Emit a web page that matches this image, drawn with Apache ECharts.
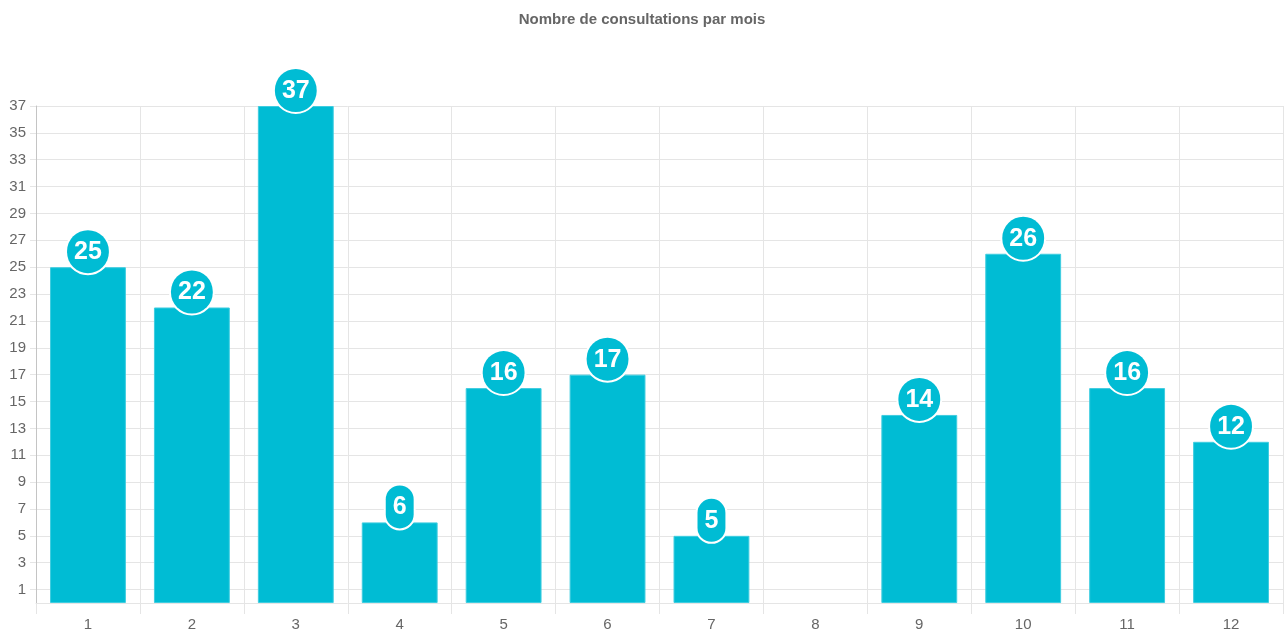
<!DOCTYPE html>
<html>
<head>
<meta charset="utf-8">
<script src="https://cdn.jsdelivr.net/npm/echarts@6/dist/echarts.min.js"></script>
<style>
html,body{margin:0;padding:0;background:#fff;}
#chart{width:1284px;height:635px;}
</style>
</head>
<body>
<div id="chart"></div>
<script>
const titleText = 'Nombre de consultations par mois';
const categories = ['1','2','3','4','5','6','7','8','9','10','11','12'];
const consultations = [25, 22, 37, 6, 16, 17, 5, null, 14, 26, 16, 12];
const yTickValues = [1,3,5,7,9,11,13,15,17,19,21,23,25,27,29,31,33,35,37];
const yMax = 37;

const chart = echarts.init(document.getElementById('chart'), null, {renderer:'canvas'});
const font = '"Liberation Sans", Arial, Helvetica, sans-serif';
chart.setOption({
  animation: false,
  textStyle: { fontFamily: font },
  title: {
    text: titleText,
    left: 'center',
    top: 7,
    textStyle: { fontFamily: font, fontSize: 15, fontWeight: 'bold', color: '#666' }
  },
  grid: { left: 36, right: 1, top: 106, bottom: 32, containLabel: false },
  xAxis: {
    type: 'category',
    data: categories,
    boundaryGap: true,
    axisLine: { show: true, lineStyle: { color: '#e5e5e5', width: 1 } },
    axisTick: { show: true, alignWithLabel: false, length: 11, lineStyle: { color: '#e5e5e5' } },
    splitLine: { show: true, lineStyle: { color: '#e5e5e5', width: 1 } },
    axisLabel: { color: '#666', fontSize: 15, margin: 14, fontFamily: font }
  },
  yAxis: {
    type: 'value',
    min: 0,
    max: yMax,
    interval: 1,
    axisLine: { show: true, lineStyle: { color: '#c4c4c4', width: 1 } },
    axisTick: { show: true, length: 6, customValues: yTickValues, lineStyle: { color: '#e5e5e5' } },
    axisLabel: { color: '#666', fontSize: 15, margin: 10, customValues: yTickValues, fontFamily: font },
    splitLine: { show: true, lineStyle: { color: '#e5e5e5', width: 1 } }
  },
  series: [{
    type: 'bar',
    data: consultations,
    barCategoryGap: '27%',
    itemStyle: { color: '#00BCD4', borderColor: '#3fcde0', borderWidth: 1 },
    label: {
      show: true,
      position: 'top',
      distance: -6,
      color: '#fff',
      fontSize: 25,
      fontWeight: 'bold',
      fontFamily: font,
      lineHeight: 26,
      backgroundColor: '#00BCD4',
      borderColor: '#fff',
      borderWidth: 2,
      borderRadius: 24,
      padding: [9, 7, 8, 7]
    }
  }]
});
</script>
</body>
</html>
